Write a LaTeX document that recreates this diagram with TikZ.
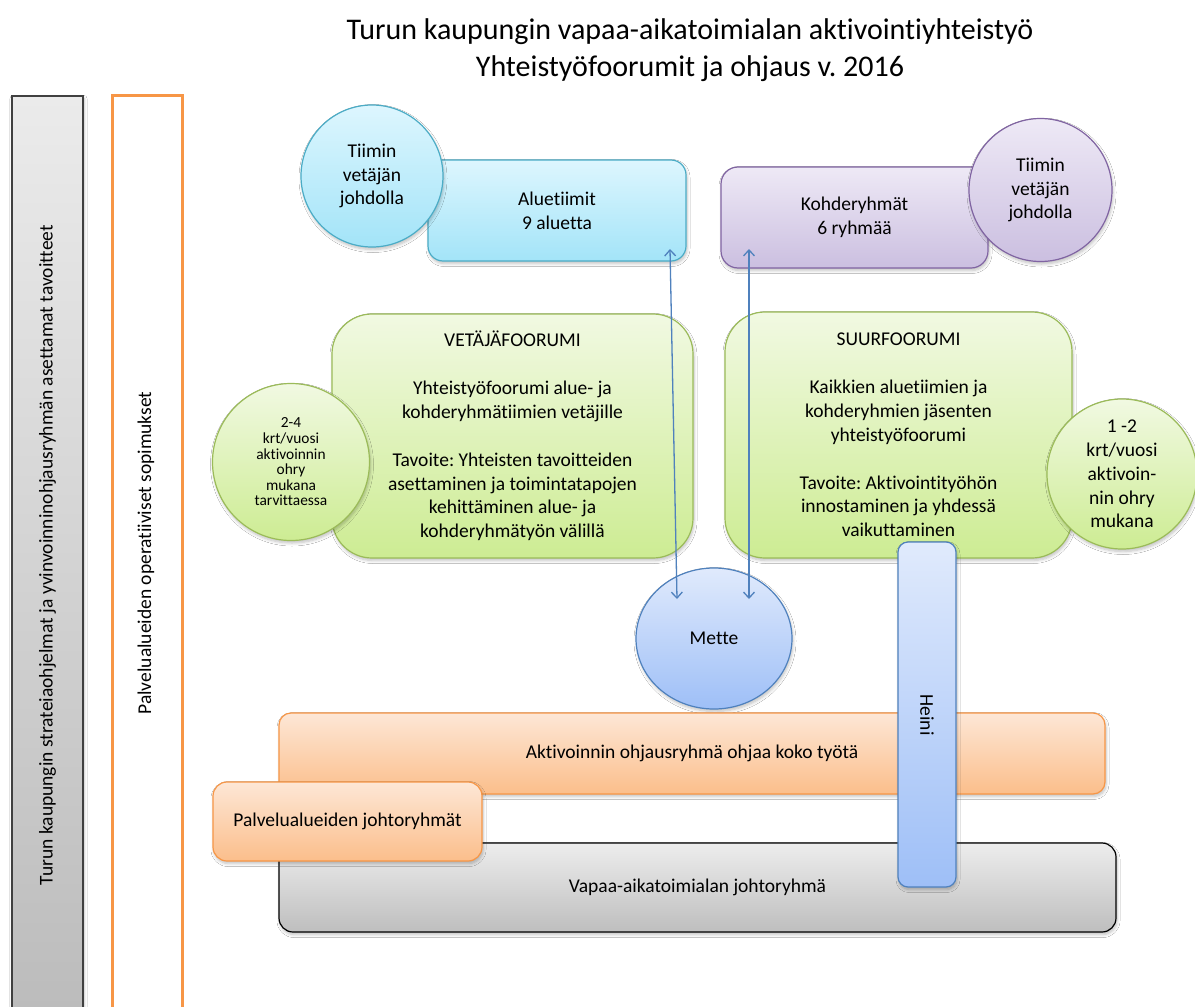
\documentclass[tikz,border=0pt]{standalone}
\usepackage{fontspec}
\setmainfont{Carlito}[Ligatures=NoCommon]
\usetikzlibrary{arrows.meta,shadows,shadows.blur,shapes.geometric}
\definecolor{cyT}{HTML}{DDF6FE}\definecolor{cyB}{HTML}{A3E4F8}\definecolor{cyD}{HTML}{4BACC6}
\definecolor{puT}{HTML}{EEE9F6}\definecolor{puB}{HTML}{CBBFE0}\definecolor{puD}{HTML}{8064A2}
\definecolor{grT}{HTML}{F1F9E2}\definecolor{grB}{HTML}{CDEC93}\definecolor{grD}{HTML}{9BBB59}
\definecolor{blT}{HTML}{E0EAFC}\definecolor{blB}{HTML}{9EBFF7}\definecolor{blD}{HTML}{4F81BD}
\definecolor{orT}{HTML}{FDE7D6}\definecolor{orB}{HTML}{FBBE8B}\definecolor{orD}{HTML}{F79646}
\definecolor{gyT}{HTML}{EDEDED}\definecolor{gyB}{HTML}{BEBEBE}
\definecolor{lbT}{HTML}{EBEBEB}\definecolor{lbB}{HTML}{BCBCBC}\definecolor{lbD}{HTML}{404040}
\frenchspacing
\begin{document}
\begin{tikzpicture}[x=1pt,y=-1pt,
  every node/.style={font=\fontsize{19.5}{23.8}\selectfont, align=center, inner sep=0pt},
  shad/.style={blur shadow={shadow blur steps=6, shadow xshift=1pt, shadow yshift=-2.5pt, shadow opacity=25, shadow blur radius=3pt}},
  base/.style={draw, line width=1.2pt, shad},
  cyanbox/.style={base, draw=cyD, top color=cyT, bottom color=cyB},
  purplebox/.style={base, draw=puD, top color=puT, bottom color=puB},
  greenbox/.style={base, draw=grD, top color=grT, bottom color=grB},
  bluebox/.style={base, draw=blD, top color=blT, bottom color=blB},
  orangebox/.style={base, draw=orD, top color=orT, bottom color=orB},
  graybox/.style={base, draw=black, top color=gyT, bottom color=gyB},
  conn/.style={draw=blD, line width=1.3pt, {Straight Barb[length=6pt,width=11pt]}-{Straight Barb[length=6pt,width=11pt]}}
]
\useasboundingbox (0,0) rectangle (1195,1007);
\fill[white] (0,0) rectangle (1195,1007);

% left bars
\node[base, draw=lbD, top color=lbT, bottom color=lbB, minimum width=71, minimum height=914] (strat) at (47.5,553) {};
\node[rotate=90] (strattxt) at (47.5,555) {Turun kaupungin strateiaohjelmat ja yvinvoinninohjausryhmän asettamat tavoitteet};
\node[draw=orD, line width=3pt, minimum width=70, minimum height=915] (oper) at (147,552.5) {};
\node[rotate=90] (opertxt) at (146,553) {Palvelualueiden operatiiviset sopimukset};

% title
\node[font=\fontsize{30}{37}\selectfont] (title) at (690,50) {Turun kaupungin vapaa-aikatoimialan aktivointiyhteistyö\\Yhteistyöfoorumit ja ohjaus v. 2016};

% top boxes
\node[cyanbox, rounded corners=15pt, minimum width=258, minimum height=101] (alue) at (557,210.5) {Aluetiimit\\9 aluetta};
\node[cyanbox, circle, minimum size=142] (alueC) at (372,176) {Tiimin\\vetäjän\\johdolla};
\node[purplebox, rounded corners=17pt, minimum width=267, minimum height=101] (kohde) at (854.5,217.5) {Kohderyhmät\\6 ryhmää};
\node[purplebox, circle, minimum size=143] (kohdeC) at (1040.5,190) {Tiimin\\vetäjän\\johdolla};

% forums
\node[greenbox, rounded corners=40pt, minimum width=361, minimum height=244] (veta) at (512.5,436) {VETÄJÄFOORUMI\\[24pt]Yhteistyöfoorumi alue- ja\\kohderyhmätiimien vetäjille\\[24pt]Tavoite: Yhteisten tavoitteiden\\asettaminen ja toimintatapojen\\kehittäminen alue- ja\\kohderyhmätyön välillä};
\node[greenbox, rounded corners=40pt, minimum width=347, minimum height=246] (suur) at (898.5,435) {SUURFOORUMI\\[24pt]Kaikkien aluetiimien ja\\kohderyhmien jäsenten\\yhteistyöfoorumi\\[24pt]Tavoite: Aktivointityöhön\\innostaminen ja yhdessä\\vaikuttaminen};
\node[greenbox, circle, minimum size=157, font=\fontsize{15.4}{15.6}\selectfont] (vetaC) at (291,462) {2-4\\krt/vuosi\\aktivoinnin\\ohry\\mukana\\tarvittaessa};
\node[greenbox, circle, minimum size=150] (suurC) at (1122,474) {1 -2\\krt/vuosi\\aktivoin-\\nin ohry\\mukana};

% Mette
\node[bluebox, ellipse, minimum width=156, minimum height=141] (mette) at (714,638.5) {Mette};

% bottom bars
\node[orangebox, rounded corners=12pt, minimum width=826, minimum height=81] (ohjaus) at (692,753.5) {Aktivoinnin ohjausryhmä ohjaa koko työtä};
\node[graybox, rounded corners=14pt, minimum width=837, minimum height=89] (vapaa) at (697.5,887.5) {Vapaa-aikatoimialan johtoryhmä};
\node[orangebox, rounded corners=14pt, minimum width=269, minimum height=79] (palv) at (347.5,821.5) {Palvelualueiden johtoryhmät};
\node[bluebox, rounded corners=10pt, minimum width=58, minimum height=345] (heini) at (927,714.5) {};
\node[rotate=-90] (heinitxt) at (927,715) {Heini};

% connectors
\coordinate (a1) at (670,249);
\coordinate (a2) at (677,599);
\coordinate (b1) at (749,249);
\coordinate (b2) at (749,599);
\draw[conn] (a1) -- (a2);
\draw[conn] (b1) -- (b2);
\end{tikzpicture}
\end{document}
